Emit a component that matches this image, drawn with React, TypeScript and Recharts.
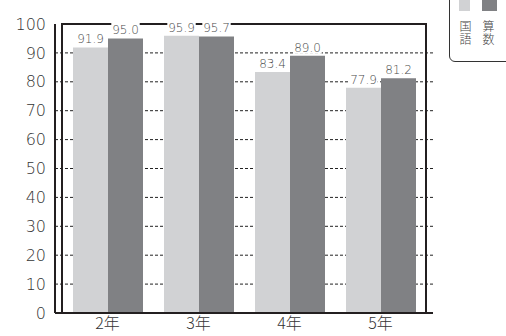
import React from 'react';
import { BarChart, Bar, XAxis, YAxis, CartesianGrid, LabelList, Legend, ReferenceArea } from 'recharts';

const categories = ['2年', '3年', '4年', '5年'];
const kokugo = [91.9, 95.9, 83.4, 77.9];
const sansu = [95.0, 95.7, 89.0, 81.2];
const yTicks = [0, 10, 20, 30, 40, 50, 60, 70, 80, 90, 100];
const gridTicks = [10, 20, 30, 40, 50, 60, 70, 80, 90];

const data = categories.map((c, i) => ({ name: c, kokugo: kokugo[i], sansu: sansu[i] }));

const NUM_FONT = '"DejaVu Sans", sans-serif';
const JP_FONT = '"Noto Sans CJK JP", sans-serif';

const BarLabel = (props: any) => {
  const { x, y, width, value } = props;
  const text = Number(value).toFixed(1);
  const cx = x + width / 2;
  const fs = 12;
  const tw = text.length * 6.6;
  return (
    <g>
      <rect x={cx - tw / 2 - 1} y={y - 4 - fs} width={tw + 2} height={fs + 2} fill="#fff" />
      <text x={cx} y={y - 4} textAnchor="middle" fontSize={fs} fill="#4a4a4a" fontFamily={NUM_FONT} fontWeight={200}>
        {text}
      </text>
    </g>
  );
};

const LegendBox = (props: any) => {
  const payload = props.payload || [];
  return (
    <div
      style={{
        position: 'relative',
        width: 80,
        height: 72,
        border: '1.5px solid #333',
        borderRadius: 6,
        boxSizing: 'border-box',
        background: '#fff',
      }}
    >
      {payload.map((p: any, i: number) => (
        <div key={i} style={{ position: 'absolute', left: 9 + i * 23, top: 9 }}>
          <div style={{ width: i === 0 ? 11 : 15, height: 11, background: p.color }} />
          <div
            style={{
              marginTop: 9,
              writingMode: 'vertical-rl',
              fontSize: 12,
              lineHeight: '13px',
              letterSpacing: 1,
              color: '#444',
              fontFamily: JP_FONT,
              fontWeight: 300,
            }}
          >
            {p.value}
          </div>
        </div>
      ))}
    </div>
  );
};

const tickStyle = { fontSize: 16, fill: '#333', fontFamily: NUM_FONT, fontWeight: 200 };

export default function App() {
  return (
    <div style={{ position: 'absolute', left: 0, top: 0, background: '#fff' }}>
      <BarChart
        width={506}
        height={336}
        data={data}
        margin={{ top: 24, right: 73, bottom: 0, left: 0 }}
        barGap={0}
        barCategoryGap={11}
      >
        <CartesianGrid
          vertical={false}
          horizontalValues={gridTicks}
          stroke="#222"
          strokeDasharray="3 2"
          strokeWidth={1}
        />
        <ReferenceArea y1={0} y2={100} fill="none" stroke="#231f20" strokeWidth={2} ifOverflow="visible" />
        <XAxis
          dataKey="name"
          height={23}
          padding={{ left: 7, right: 7 }}
          tickSize={0}
          tickMargin={5}
          axisLine={{ stroke: '#231f20', strokeWidth: 2 }}
          tick={{ ...tickStyle, fontFamily: JP_FONT, fontWeight: 300 }}
        />
        <YAxis
          width={55}
          domain={[0, 100]}
          ticks={yTicks}
          interval={0}
          tickSize={0}
          tickMargin={9}
          axisLine={{ stroke: '#231f20', strokeWidth: 2 }}
          tick={tickStyle}
        />
        <Legend
          layout="horizontal"
          verticalAlign="middle"
          align="center"
          content={<LegendBox />}
          wrapperStyle={{ position: 'absolute', left: 449, top: -10, width: 80, height: 72 }}
        />
        <Bar dataKey="kokugo" name="国語" fill="#d1d2d4" isAnimationActive={false}>
          <LabelList dataKey="kokugo" content={<BarLabel />} />
        </Bar>
        <Bar dataKey="sansu" name="算数" fill="#808184" isAnimationActive={false}>
          <LabelList dataKey="sansu" content={<BarLabel />} />
        </Bar>
      </BarChart>
    </div>
  );
}
